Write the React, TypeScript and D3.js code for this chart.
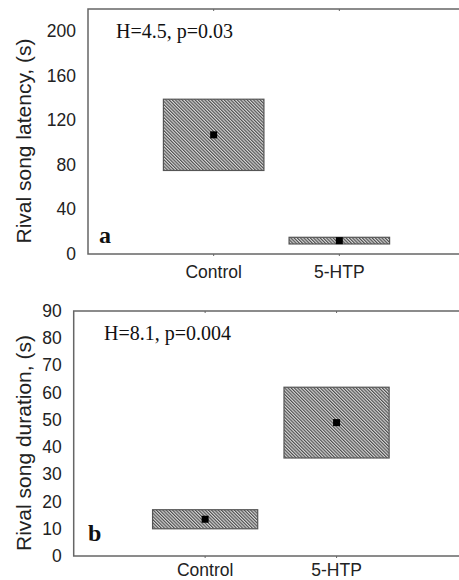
import React from 'react'
import * as d3 from 'd3'

const categories = ['Control', '5-HTP']

// panel a: rival song latency (s)
const latencyMedian = [107, 12]
const latencyLow = [75, 9]
const latencyHigh = [139, 15]
const latencyTicks = [0, 40, 80, 120, 160, 200]

// panel b: rival song duration (s)
const durationMedian = [13.5, 49]
const durationLow = [10, 36]
const durationHigh = [17, 62]
const durationTicks = [0, 10, 20, 30, 40, 50, 60, 70, 80, 90]

const sans = 'Arial, "Liberation Sans", sans-serif'
const serif = '"Times New Roman", "Liberation Serif", serif'

function Panel(props) {
  const p = props
  const x = d3.scaleLinear().domain([0, 3]).range([p.left, p.right])
  const y = d3.scaleLinear().domain([0, p.yMax]).range([p.bottom, p.top])
  const boxW = x(0.8) - x(0)
  const m = 7

  return (
    <g>
      {/* boxes */}
      {categories.map((c, i) => (
        <g key={c}>
          <rect
            x={x(i + 1) - boxW / 2}
            y={y(p.high[i])}
            width={boxW}
            height={y(p.low[i]) - y(p.high[i])}
            fill="url(#hatch)"
            stroke="#555"
            strokeWidth={1.2}
          />
          <rect
            x={x(i + 1) - m / 2}
            y={y(p.median[i]) - m / 2}
            width={m}
            height={m}
            fill="#000"
          />
        </g>
      ))}

      {/* frame */}
      <rect
        x={p.left}
        y={p.top}
        width={p.right - p.left}
        height={p.bottom - p.top}
        fill="none"
        stroke="#666"
        strokeWidth={1.5}
      />

      {/* y tick labels */}
      {p.ticks.map(t => (
        <text
          key={t}
          x={p.left - 12}
          y={y(t)}
          textAnchor="end"
          dominantBaseline="central"
          fontFamily={sans}
          fontSize={17.5}
          fill="#222"
        >
          {t}
        </text>
      ))}

      {/* category ticks + labels */}
      {categories.map((c, i) => (
        <g key={c}>
          <line x1={x(i + 1)} x2={x(i + 1)} y1={p.top} y2={p.top + 2} stroke="#666" />
          <line x1={x(i + 1)} x2={x(i + 1)} y1={p.bottom} y2={p.bottom + 2} stroke="#666" />
          <text
            x={x(i + 1)}
            y={p.catY}
            textAnchor="middle"
            fontFamily={sans}
            fontSize={17.5}
            fill="#222"
          >
            {c}
          </text>
        </g>
      ))}

      {/* axis title */}
      <text
        transform={`translate(23, ${p.titleY}) rotate(-90)`}
        textAnchor="middle"
        dominantBaseline="central"
        fontFamily={sans}
        fontSize={21}
        fill="#222"
      >
        {p.title}
      </text>

      <text x={p.statX} y={p.statY} fontFamily={serif} fontSize={20} fill="#111">
        {p.stat}
      </text>
      <text x={p.letterX} y={p.letterY} fontFamily={serif} fontWeight="bold" fontSize={24} fill="#111">
        {p.letter}
      </text>
    </g>
  )
}

export default function App() {
  return (
    <svg
      width={459}
      height={580}
      style={{ position: 'absolute', left: 0, top: 0, background: '#fff' }}
    >
      <defs>
        <pattern
          id="hatch"
          patternUnits="userSpaceOnUse"
          width={2.3}
          height={2.3}
          patternTransform="rotate(-45)"
        >
          <rect width={2.3} height={2.3} fill="#d8d8d8" />
          <line x1={0.6} y1={0} x2={0.6} y2={2.3} stroke="#3a3a3a" strokeWidth={1} />
        </pattern>
      </defs>

      <Panel
        left={88}
        right={465}
        top={9}
        bottom={254}
        yMax={220}
        ticks={latencyTicks}
        median={latencyMedian}
        low={latencyLow}
        high={latencyHigh}
        catY={278}
        title="Rival song latency, (s)"
        titleY={141}
        stat="H=4.5, p=0.03"
        statX={116}
        statY={38}
        letter="a"
        letterX={99}
        letterY={243}
      />
      <Panel
        left={73.7}
        right={468}
        top={311}
        bottom={556}
        yMax={90}
        ticks={durationTicks}
        median={durationMedian}
        low={durationLow}
        high={durationHigh}
        catY={576}
        title="Rival song duration, (s)"
        titleY={443}
        stat="H=8.1, p=0.004"
        statX={104}
        statY={340}
        letter="b"
        letterX={88}
        letterY={541}
      />
    </svg>
  )
}
